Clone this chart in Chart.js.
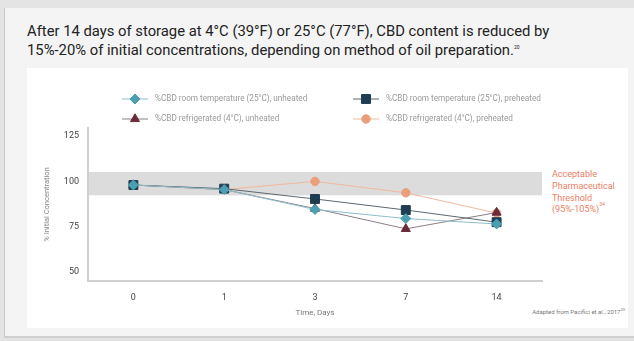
<!DOCTYPE html>
<html>
<head>
<meta charset="utf-8">
<script src="https://cdn.jsdelivr.net/npm/chart.js@4"></script>
<style>
  html, body { margin:0; padding:0; width:634px; height:341px; overflow:hidden; background:#e4e4e4; font-family: Roboto, "Noto Sans", sans-serif; }
  #panel { position:absolute; left:4px; top:8px; width:630px; height:328px; background:#f4f4f4; border-left:1px solid #c9c9c9; border-bottom:2px solid #cfcfcf; }
  #card { position:absolute; left:27px; top:68px; width:601px; height:260px; background:#fff; }
  #title { position:absolute; left:27px; top:22px; font-size:14.8px; line-height:19px; color:#222; white-space:nowrap; }
  sup { font-size:5px; line-height:0; vertical-align:0; position:relative; top:-6px; }
  #note { position:absolute; left:552px; top:169px; font-size:9px; line-height:11.8px; color:#ec7d62; }
  #src { position:absolute; right:9px; top:308px; font-size:6px; line-height:8px; color:#777; white-space:nowrap; }
  #src sup { font-size:4px; top:-3px; }
  canvas { position:absolute; left:0; top:0; }
</style>
</head>
<body>
<div id="panel"></div>
<div id="card"></div>
<div id="title">After 14 days of storage at 4°C (39°F) or 25°C (77°F), CBD content is reduced by<br>15%-20% of initial concentrations, depending on method of oil preparation.<sup>20</sup></div>
<div id="note">Acceptable<br>Pharmaceutical<br>Threshold<br>(95%-105%)<sup>34</sup></div>
<div id="src">Adapted from Pacifici et al., 2017<sup>20</sup></div>
<canvas id="c" width="634" height="341"></canvas>
<script>
const days = ["0", "1", "3", "7", "14"];
const roomUnheated = [98, 95.5, 84.5, 79.5, 76.5];
const roomPreheated = [98, 96, 90.3, 84.2, 77.5];
const fridgeUnheated = [98, 95.5, 85, 73.8, 82.8];
const fridgePreheated = [98, 95.5, 100, 93.7, 82.5];
const yTicks = [50, 75, 100, 125];
const bandRange = [92.3, 105.2];
const seriesNames = [
  "%CBD room temperature (25°C), unheated",
  "%CBD room temperature (25°C), preheated",
  "%CBD refrigerated (4°C), unheated",
  "%CBD refrigerated (4°C), preheated"
];

const bandPlugin = {
  id: 'band',
  beforeDatasetsDraw(chart) {
    const {ctx, chartArea, scales} = chart;
    const y1 = scales.y.getPixelForValue(bandRange[1]);
    const y0 = scales.y.getPixelForValue(bandRange[0]);
    ctx.save();
    ctx.fillStyle = '#dcdcdc';
    ctx.fillRect(chartArea.left + 1, y1, chartArea.right - chartArea.left - 1, y0 - y1);
    ctx.restore();
  }
};

const legendPlugin = {
  id: 'customLegend',
  afterDraw(chart) {
    const ctx = chart.ctx;
    const pos = [[122, 99], [353, 99], [122, 119], [353, 119]];
    ctx.save();
    chart.data.datasets.forEach((ds, i) => {
      const [x, y] = pos[i];
      const w = 26;
      ctx.strokeStyle = ds.legendLine;
      ctx.lineWidth = 1;
      ctx.beginPath(); ctx.moveTo(x, y); ctx.lineTo(x + w, y); ctx.stroke();
      ctx.fillStyle = ds.pointBackgroundColor;
      ctx.strokeStyle = ds.pointBorderColor;
      Chart.helpers.drawPoint(ctx, {
        pointStyle: ds.pointStyle, radius: ds.pointRadius, rotation: 0, borderWidth: 1
      }, x + w / 2, y);
      ctx.fillStyle = '#9a9a9a';
      ctx.font = '8.2px Roboto, "Noto Sans", sans-serif';
      ctx.textBaseline = 'middle';
      ctx.textAlign = 'left';
      ctx.fillText(ds.label, x + w + 7, y);
    });
    ctx.restore();
  }
};

function mk(label, data, lineColor, markColor, style, radius) {
  return {
    label, data,
    borderColor: lineColor, borderWidth: 1,
    pointStyle: style, pointRadius: radius, pointHoverRadius: radius,
    pointBackgroundColor: markColor, pointBorderColor: markColor, pointBorderWidth: 1,
    legendLine: lineColor, tension: 0, fill: false
  };
}

new Chart(document.getElementById('c'), {
  type: 'line',
  data: {
    labels: days,
    datasets: [
      mk(seriesNames[0], roomUnheated, '#8fbccb', '#4b9fb0', 'rectRot', 5),
      mk(seriesNames[1], roomPreheated, '#5d6770', '#1f3d52', 'rect', 6.3),
      mk(seriesNames[2], fridgeUnheated, '#8d7e86', '#6a2a39', 'triangle', 5.2),
      mk(seriesNames[3], fridgePreheated, '#f0b99d', '#e99f7b', 'circle', 4.2)
    ]
  },
  options: {
    responsive: false,
    animation: false,
    devicePixelRatio: 1,
    layout: { padding: { left: 30, right: 92, top: 128, bottom: 20 } },
    plugins: { legend: { display: false }, tooltip: { enabled: false } },
    scales: {
      x: {
        offset: true,
        grid: { display: false, drawTicks: false },
        border: { display: true, color: '#d0d0d0', width: 2 },
        ticks: { color: '#444', font: { size: 9, family: 'Roboto' }, padding: 11 },
        title: { display: true, text: 'Time, Days', color: '#777', font: { size: 8, family: 'Roboto' }, padding: { top: 0, bottom: 3 } },
        afterFit(s) { s.height = 40; }
      },
      y: {
        min: 45, max: 129.5,
        afterBuildTicks(s) { s.ticks = yTicks.map(v => ({ value: v })); },
        grid: { display: false, drawTicks: false },
        border: { display: true, color: '#d0d0d0', width: 2 },
        ticks: { color: '#444', font: { size: 9, family: 'Roboto' }, padding: 9 },
        title: { display: true, text: '% Initial Concentration', color: '#888', font: { size: 7.5, family: 'Roboto' }, padding: { top: 13, bottom: 0 } },
        afterFit(s) { s.width = 58; }
      }
    }
  },
  plugins: [bandPlugin, legendPlugin]
});
</script>
</body>
</html>
